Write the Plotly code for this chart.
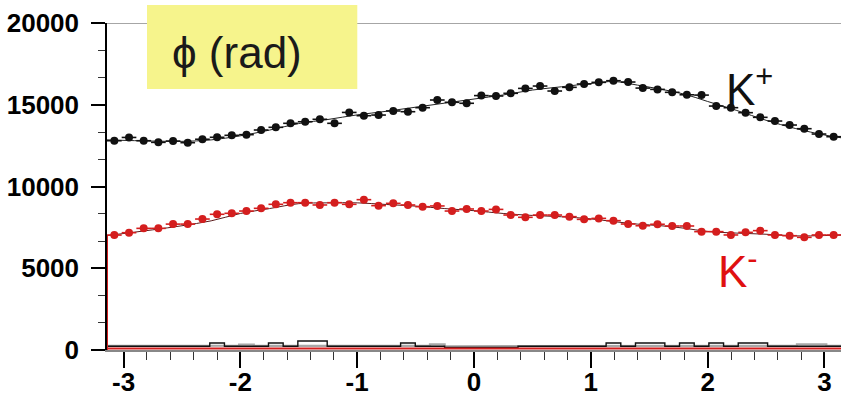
import numpy as np
import plotly.graph_objects as go

# ---- data ----
n_bins = 50
kplus = [12800, 13000, 12800, 12700, 12780, 12680, 12890, 13010, 13130, 13170,
         13455, 13620, 13865, 13960, 14110, 13865, 14530, 14330, 14370, 14620,
         14575, 14820, 15290, 15150, 15090, 15560, 15535, 15700, 16000, 16145,
         15840, 16065, 16270, 16370, 16470, 16390, 16020, 15940, 15760, 15610,
         15590, 14920, 14820, 14515, 14230, 14005, 13760, 13535, 13210, 13045]
kminus = [7030, 7175, 7440, 7440, 7700, 7700, 8010, 8300, 8360, 8500,
          8665, 8910, 9010, 9010, 8870, 9010, 8910, 9195, 8830, 8970,
          8870, 8765, 8810, 8500, 8625, 8500, 8600, 8255, 8115, 8255,
          8255, 8155, 7990, 8050, 7910, 7705, 7600, 7690, 7585, 7585,
          7240, 7240, 7035, 7195, 7300, 7035, 6990, 6890, 7035, 7035]
kplus_err = [150] * n_bins
kminus_err = [120] * n_bins

fit_phi = [-3.1416, -2.75, -2.5, -2.25, -2.0, -1.75, -1.5, -1.25, -1.0, -0.75, -0.5, -0.25,
           0.0, 0.25, 0.5, 0.75, 1.0, 1.2, 1.4, 1.6, 1.8, 2.0, 2.25, 2.5, 2.75, 3.0, 3.1416]
kplus_fit = [12850, 12780, 12760, 12850, 13100, 13450, 13850, 14100, 14380, 14600, 14850, 15100,
             15350, 15600, 15900, 16100, 16300, 16420, 16200, 15950, 15650, 15200, 14650, 14050,
             13550, 13150, 12980]
kminus_fit = [7000, 7350, 7600, 7900, 8350, 8650, 8950, 9000, 9000, 8900, 8800, 8650,
              8520, 8350, 8230, 8150, 8020, 7850, 7700, 7600, 7450, 7250, 7150, 7080,
              6980, 7000, 7030]

bg_black = [230, 230, 230, 230, 230, 230, 230, 430, 230, 230,
            230, 430, 230, 550, 550, 230, 230, 230, 230, 230,
            430, 230, 230, 150, 150, 150, 150, 150, 230, 230,
            230, 230, 230, 230, 430, 230, 430, 430, 230, 430,
            230, 430, 230, 430, 430, 230, 230, 230, 230, 230]
bg_gray = [250, 260, 260, 250, 260, 250, 250, 260, 260, 330,
           250, 260, 260, 250, 250, 260, 250, 260, 260, 250,
           260, 250, 340, 230, 230, 230, 230, 230, 250, 260,
           260, 250, 260, 250, 260, 250, 260, 250, 250, 260,
           250, 260, 250, 250, 260, 250, 260, 340, 340, 250]
bg_red = [90, 100, 100, 90, 100, 100, 90, 100, 90, 100,
          100, 90, 100, 100, 90, 100, 100, 90, 100, 100,
          90, 100, 100, 90, 100, 100, 90, 100, 100, 90,
          100, 90, 100, 100, 90, 100, 100, 90, 100, 100,
          90, 100, 100, 90, 100, 100, 90, 100, 100, 90]

x_ticks = [-3, -2, -1, 0, 1, 2, 3]
y_ticks = [0, 5000, 10000, 15000, 20000]

# ---- derived binning ----
edges = np.linspace(-np.pi, np.pi, n_bins + 1)
centers = 0.5 * (edges[:-1] + edges[1:])
half_w = (edges[1] - edges[0]) / 2

RED = "#d41e1e"
FONT = "Liberation Sans, Arial, sans-serif"


def step(vals):
    xs, ys = [], []
    for i, v in enumerate(vals):
        xs += [edges[i], edges[i + 1]]
        ys += [v, v]
    return xs, ys


fig = go.Figure()

# background histograms near zero
for vals, col, w in [(bg_gray, "#a8a8a8", 2.2), (bg_black, "#111111", 1.4), (bg_red, RED, 2.0)]:
    sx, sy = step(vals)
    fig.add_trace(go.Scatter(x=sx, y=sy, mode="lines", line=dict(color=col, width=w),
                             hoverinfo="skip", showlegend=False))

# red left edge of the K- histogram
fig.add_trace(go.Scatter(x=[edges[0], edges[0]], y=[0, kminus[0]], mode="lines",
                         line=dict(color=RED, width=2), showlegend=False, hoverinfo="skip"))

# fit curves
fig.add_trace(go.Scatter(x=fit_phi, y=kplus_fit, mode="lines", line=dict(color="#222", width=1, shape="spline"),
                         showlegend=False))
fig.add_trace(go.Scatter(x=fit_phi, y=kminus_fit, mode="lines", line=dict(color="#5a1a1a", width=1, shape="spline"),
                         showlegend=False))

# data points
for vals, err, col in [(kplus, kplus_err, "#111111"), (kminus, kminus_err, RED)]:
    fig.add_trace(go.Scatter(
        x=centers, y=vals, mode="markers",
        marker=dict(color=col, size=8, symbol="circle"),
        error_x=dict(type="constant", value=half_w, color=col, thickness=1.6, width=0),
        error_y=dict(type="data", array=err, color=col, thickness=1.6, width=0),
        showlegend=False))

TICKFONT = dict(size=26, family=FONT, color="black", weight="bold")

fig.update_layout(
    width=841, height=398,
    margin=dict(l=107, r=0, t=23, b=48),
    paper_bgcolor="white", plot_bgcolor="white",
    template="none",
    font=dict(family=FONT, color="black"),
    xaxis=dict(range=[-np.pi, np.pi], tickvals=x_ticks, ticktext=[str(v) for v in x_ticks],
               ticks="outside", ticklen=16, tickwidth=1.5, tickcolor="black",
               minor=dict(dtick=0.2, tick0=0, ticks="outside", ticklen=8, tickwidth=1.2, tickcolor="#333", showgrid=False),
               showline=True, linecolor="#888", linewidth=1.5, showgrid=False, zeroline=False,
               tickfont=TICKFONT, automargin=False,
               ticklabelstandoff=-8),
    yaxis=dict(range=[0, 20000], tickvals=y_ticks, ticktext=[str(v) for v in y_ticks],
               ticks="outside", ticklen=14, tickwidth=1.5, tickcolor="black",
               minor=dict(dtick=5000 / 3, tick0=0, ticks="outside", ticklen=7, tickwidth=1.2, tickcolor="#333", showgrid=False),
               showline=True, linecolor="black", linewidth=1.5, showgrid=False, zeroline=False,
               tickfont=TICKFONT, automargin=False,
               ticklabelstandoff=7),
    shapes=[
        dict(type="line", xref="paper", yref="y", x0=0, x1=1, y0=20000, y1=20000,
             line=dict(color="#888", width=1.5), layer="above"),
        dict(type="rect", xref="paper", yref="paper", x0=0.0545, x1=0.341, y0=0.798, y1=1.055,
             fillcolor="#f6f48c", line=dict(width=0), layer="above"),
    ],
    annotations=[
        dict(text="ϕ (rad)", xref="paper", yref="paper", x=0.177, y=0.911, showarrow=False,
             xanchor="center", yanchor="middle",
             font=dict(size=44, family=FONT, color="#1a1a1a")),
        dict(text="K<sup>+</sup>", xref="paper", yref="paper", x=0.876, y=0.805, showarrow=False,
             xanchor="center", yanchor="middle",
             font=dict(size=44, family=FONT, color="#111")),
        dict(text="K<sup>-</sup>", xref="paper", yref="paper", x=0.86, y=0.25, showarrow=False,
             xanchor="center", yanchor="middle",
             font=dict(size=44, family=FONT, color="#e01010")),
    ],
)

fig.write_html("out.html")
